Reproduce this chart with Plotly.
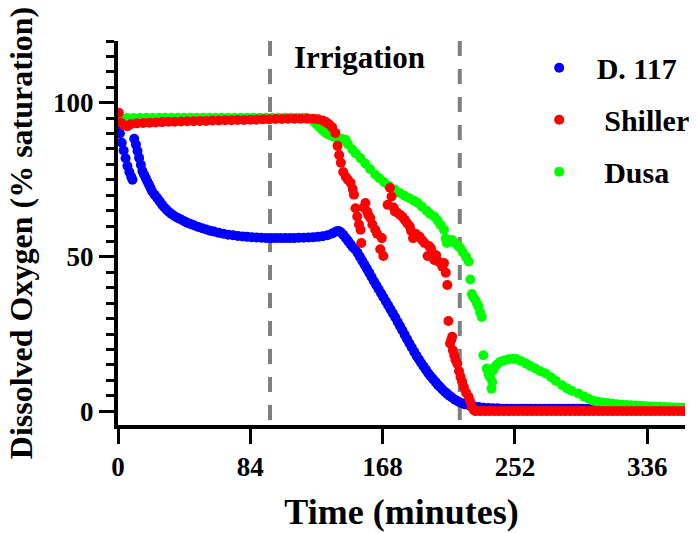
import plotly.graph_objects as go

# ---- data ----
t_d117 = [0, 1.2, 2.4, 3.6, 4.8, 6, 7.2, 8.4, 9.2,
          10.3, 11.4, 12.4, 13.4, 14.5, 15.5, 16.5, 17.6, 18.6, 19.7, 20.7, 21.7, 23.3, 24.9,
          26.5, 28, 29.5, 31, 32.5, 34, 36, 38, 40, 42, 44, 46, 48.5, 51, 53.5, 56, 58.5, 61, 64, 67,
          70, 73, 76, 79, 82, 85, 88, 91, 94, 97, 100, 103, 106, 109, 112, 115, 118, 121, 124, 127,
          130, 133, 136, 138.4,
          140, 141.5, 143, 144.5, 146, 147.5, 149, 150.5,
          152, 153.5, 155, 156.5, 158, 159.5, 161, 162.5, 164, 165.5, 167, 168.5, 170, 171.5, 173,
          174.5, 176, 177.5, 179, 180.5, 182, 183.5, 185, 186.5, 188, 189.5, 191, 192.5, 194, 195.5,
          197, 198.5, 200, 201.5, 203, 204.5, 206, 207.5, 209, 210.5, 212,
          214, 216, 218, 220, 223,
          226, 229, 232, 235, 238, 241, 244, 247, 250, 253, 256, 259, 262, 265, 268, 271, 274, 277,
          280, 283, 286, 289, 292, 295, 298, 301, 304, 307, 310, 313, 316, 319, 322, 325, 328, 331,
          334, 337, 340, 343, 346, 349, 352, 355, 358]
do_d117 = [92, 90, 87, 84.5, 82, 79.5, 77.5, 76, 75,
           88.3, 86.4, 84.3, 82.1, 79.9, 77.8, 76.7, 75.6, 74.5, 73.4, 72.3, 71.2, 70.1, 69.1,
           68, 66.9, 66, 65.2, 64.5, 63.9, 63.2, 62.6, 62.1, 61.6, 61.1, 60.7, 60.2, 59.7, 59.3, 58.9,
           58.5, 58.2, 57.8, 57.5, 57.2, 57, 56.8, 56.6, 56.5, 56.4, 56.3, 56.2, 56.1, 56.1, 56.1, 56.1,
           56.1, 56.1, 56.1, 56.2, 56.2, 56.3, 56.4, 56.5, 56.7, 57, 57.6, 58.2,
           58.4, 58, 57.2, 56.2, 55.2, 54.2, 53.2, 52.5,
           51.4, 50.1, 48.8, 47.5, 46.2, 44.9, 43.5, 42.1, 40.8, 39.5, 38.2, 36.9, 35.6, 34.3, 33,
           31.7, 30.4, 29, 27.6, 26.2, 24.8, 23.4, 22, 20.6, 19.3, 18, 16.8, 15.6, 14.5, 13.4,
           12.3, 11.3, 10.4, 9.5, 8.6, 7.8, 7, 6.3, 5.6, 5, 4.4,
           3.7, 3.1, 2.6, 2.2, 1.8,
           1.5, 1.3, 1.1, 1.0, 0.9, 0.9, 0.8, 0.8, 0.8, 0.8, 0.8, 0.8, 0.8, 0.8, 0.8, 0.8, 0.8, 0.8,
           0.8, 0.8, 0.8, 0.8, 0.8, 0.8, 0.8, 0.8, 0.8, 0.8, 0.8, 0.8, 0.8, 0.8, 0.8, 0.8, 0.8, 0.8,
           0.8, 0.8, 0.8, 0.8, 0.8, 0.8, 0.8, 0.8, 0.8]

t_shiller = [0.5, 2, 4, 6,
             8, 12, 16, 20, 24, 28, 32, 36, 40, 44, 48, 52, 56, 60, 64, 68, 72, 76, 80, 84, 88, 92,
             96, 100, 104, 108, 112, 116, 120, 124,
             127, 130, 132, 134, 136, 138, 139.4, 140.4, 141.5, 143, 144.6, 146, 147.7, 149, 149.8,
             150.8, 151.9, 153, 154, 154.5, 156, 157.1, 158.2, 159, 160.2, 161.5, 163.3, 164.5, 166.5,
             167.5, 168.5, 171.2, 172.7, 173.7, 175, 175.8, 177, 179, 180.5, 182.1, 183.5, 185.2, 186,
             187.3, 189, 191.4, 193, 194.6, 196.6, 197.5, 198.7, 200, 200.8, 202, 203.5, 205, 206, 207,
             208.1, 209.1, 209.8, 210.8, 211.5, 212.2, 212.6, 213.5, 214.4, 215.4, 216.5, 217.5, 218.5,
             219.6, 221, 222.7, 223.7, 224.7, 226,
             227, 230, 233, 236, 239, 242, 245, 248, 251, 254, 257, 260, 263, 266, 269, 272, 275, 278,
             281, 284, 287, 290, 293, 296, 299, 302, 305, 308, 311, 314, 317, 320, 323, 326, 329, 332,
             335, 338, 341, 344, 347, 350, 353, 356, 359]
do_shiller = [96.7, 93.5, 92.6, 92.4,
              93, 93.3, 93.4, 93.5, 93.6, 93.7, 93.8, 93.8, 93.9, 94, 94, 94.1, 94.1, 94.2, 94.2, 94.3,
              94.3, 94.4, 94.4, 94.5, 94.5, 94.6, 94.6, 94.7, 94.7, 94.8, 94.8, 94.8, 94.8, 94.8,
              94.6, 94.2, 93.7, 93, 92, 90.2, 86, 83, 80.5, 77.5, 76, 75, 74, 72, 70.2,
              65.8, 63.1, 60.5, 58.8, 54.5, 66, 67.5, 64.7, 63.5, 62.6, 60.5, 58.8, 57.5, 52.5,
              56.1, 50.3, 66.9, 72.4, 69.6, 66, 64.7, 64.5, 63.7, 63, 62, 61, 59.9, 58.5,
              56.1, 57.5, 56.6, 55.5, 54.5, 50.3, 53.5, 52.8, 51, 49, 50.5, 48.5, 47.9, 46.8, 48,
              44.9, 40.9, 29.2, 21.9, 23, 24.1, 19.7, 18, 16.5, 15.4, 13, 11.1, 9.5,
              7.8, 6, 4.6, 3, 1.3, 0.3,
              0, 0, 0, 0, 0, 0, 0, 0, 0, 0, 0, 0, 0, 0, 0, 0, 0, 0,
              0, 0, 0, 0, 0, 0, 0, 0, 0, 0, 0, 0, 0, 0, 0, 0, 0, 0,
              0, 0, 0, 0, 0, 0, 0, 0, 0]

t_dusa = [0, 1, 3, 6, 10, 14, 18, 22, 26, 30, 34, 38, 42, 46, 50, 54, 58, 62, 66, 70, 74, 78, 82, 86,
          90, 94, 98, 102, 106, 110, 114, 118, 120, 122, 124, 126, 128, 130, 132, 134, 136, 138, 140,
          142, 144.6, 146, 148.8, 151, 154, 157, 160, 163.3, 166, 169, 172, 175.8, 179, 182, 185,
          188, 190.4, 193, 196, 198, 200.8, 203, 205, 207, 208.1, 208.8, 210, 212.2, 214, 216, 217.5,
          219, 221, 222.7, 223.7, 224.7, 225.5, 226.9, 228, 228.9, 230, 231, 232, 234.1, 235.2, 236.2,
          237.2, 237.6, 238.2, 239, 240.5, 242.4, 245, 248, 250.8, 253, 256, 259.1, 262, 265, 268,
          271.6, 275, 278, 282, 285, 288, 292.4, 296, 299,
          302, 305, 308, 311, 314, 317, 320, 323, 326, 329, 332, 335, 338, 341, 344, 347, 350, 353,
          356, 359]
do_dusa = [94, 94.6, 94.8, 95, 95, 95, 95.1, 95.1, 95.1, 95.1, 95.1, 95.1, 95.1, 95.1, 95.1, 95.1,
           95.1, 95.1, 95.1, 95.1, 95.1, 95.1, 95.1, 95.1, 95.1, 95.1, 95.1, 95.1, 95.1, 95.1, 95.1,
           95.1, 95, 94.8, 94, 93, 92, 91, 90.2, 89.6, 89.2, 88.8, 88.5, 88.3, 88, 86.5, 84.8, 83.5, 82,
           80.3, 78.5, 76.7, 75.5, 74.2, 73, 71.8, 70.7, 69.8, 69, 68.2, 67.5, 66.3, 65, 64, 63.1, 61.7,
           60.3, 58.8, 56, 54.5, 55, 55.5, 54.5, 53.5, 52.8, 51.5, 50, 48.5, 42.7, 38, 37, 36, 34.8,
           33.8, 32, 30.5, 18.1, 13.8, 12, 11.1, 7.3, 9.5, 13.2, 14.2, 15, 15.9, 16.4, 16.8, 17, 16.9,
           16.2, 15.4, 14.6, 13.8, 13, 12.2, 11, 9.8, 8.4, 7.4, 6.6, 5.7, 4.7, 4,
           3.4, 3.0, 2.8, 2.6, 2.4, 2.2, 2.1, 2, 1.9, 1.8, 1.7, 1.6, 1.5, 1.45, 1.4, 1.3, 1.25, 1.2,
           1.15, 1.1]

assert len(t_d117) == len(do_d117), (len(t_d117), len(do_d117))
assert len(t_shiller) == len(do_shiller), (len(t_shiller), len(do_shiller))
assert len(t_dusa) == len(do_dusa), (len(t_dusa), len(do_dusa))

irrigation_start = 96.5
irrigation_end = 217
x_ticks = [0, 84, 168, 252, 336]
y_ticks = [0, 50, 100]

FONT = "Liberation Serif"

fig = go.Figure()
series = [
    ("D. 117", t_d117, do_d117, "#0000FF", 1),
    ("\u00a0Dusa", t_dusa, do_dusa, "#00FF00", 3),
    ("\u00a0Shiller", t_shiller, do_shiller, "#FF0000", 2),
]
for name, t, v, col, rank in series:
    fig.add_trace(go.Scatter(
        x=t, y=v, mode="markers", name=name, legendrank=rank, legendgroup=name,
        marker=dict(color=col, size=10, line=dict(width=0)),
    ))

for xv in (irrigation_start, irrigation_end):
    fig.add_shape(type="line", xref="x", yref="y", x0=xv, x1=xv, y0=120, y1=-4.5,
                  line=dict(color="#808080", width=4, dash="15px,13px"), layer="below")

fig.add_annotation(x=153.5, y=114.8, xref="x", yref="y", text="Irrigation", showarrow=False,
                   font=dict(family=FONT, size=31, color="black", weight="bold"),
                   xanchor="center", yanchor="middle")

fig.update_layout(
    width=699, height=533,
    margin=dict(l=118, r=4, t=41, b=108),
    plot_bgcolor="white", paper_bgcolor="white",
    font=dict(family=FONT, color="black", weight="bold"),
    showlegend=True,
    legend=dict(x=0.712, y=0.998, xanchor="left", yanchor="top",
                font=dict(family=FONT, size=30, color="black", weight="bold"),
                bgcolor="rgba(0,0,0,0)", itemwidth=65, tracegroupgap=10,
                traceorder="grouped"),
    xaxis=dict(range=[0, 360], tickvals=x_ticks, ticktext=[str(v) for v in x_ticks],
               showline=True, linewidth=4, linecolor="black", ticks="outside", ticklen=15,
               tickwidth=3, tickcolor="black", showgrid=False, zeroline=False,
               tickfont=dict(family=FONT, size=27, color="black", weight="bold"),
               title=dict(text="Time (minutes)", standoff=18,
                          font=dict(family=FONT, size=36, color="black", weight="bold"))),
    yaxis=dict(range=[-4.5, 120], tickvals=y_ticks, ticktext=[str(v) for v in y_ticks],
               showline=True, linewidth=4, linecolor="black", ticks="outside", ticklen=15,
               tickwidth=3, tickcolor="black", showgrid=False, zeroline=False,
               minor=dict(dtick=5, tick0=0, ticks="outside", ticklen=8, tickwidth=3, tickcolor="black"),
               tickfont=dict(family=FONT, size=27, color="black", weight="bold"),
               title=dict(text="Dissolved Oxygen (% saturation)", standoff=12,
                          font=dict(family=FONT, size=32, color="black", weight="bold"))),
)

fig.write_html("out.html")
